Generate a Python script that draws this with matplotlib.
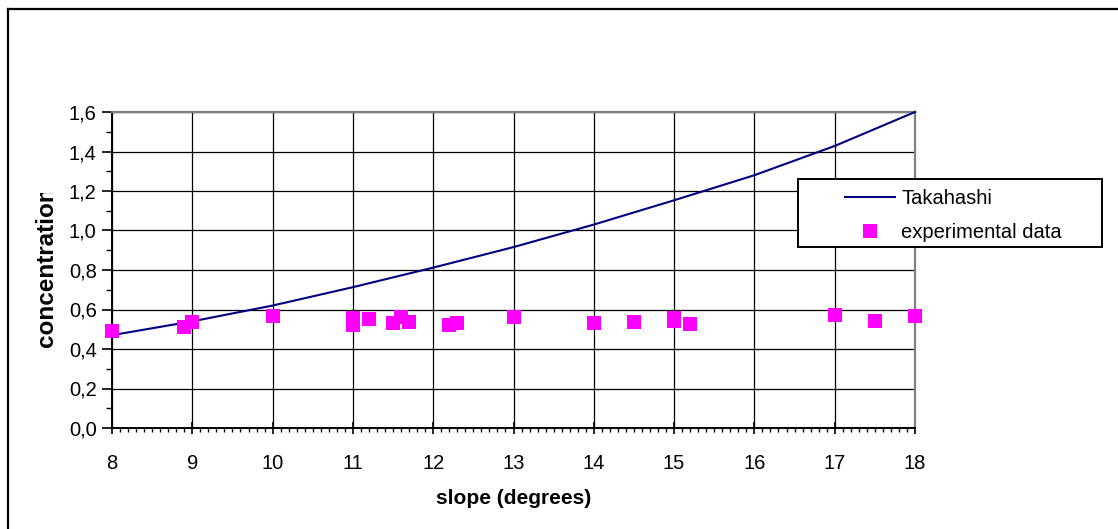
import matplotlib
matplotlib.use("Agg")
import matplotlib.pyplot as plt
from matplotlib.ticker import MultipleLocator, FuncFormatter
from matplotlib.patches import Rectangle
from matplotlib.lines import Line2D
from matplotlib.transforms import Bbox

# ---- data ----
tak_slope = [8, 9, 10, 11, 12, 13, 14, 15, 16, 17, 18]
tak_conc = [0.47, 0.54, 0.62, 0.713, 0.812, 0.916, 1.03, 1.153, 1.28, 1.428, 1.60]

exp_slope = [8.0, 8.9, 9.0, 10.0, 11.0, 11.0, 11.2, 11.5, 11.6, 11.7, 12.2, 12.3,
             13.0, 14.0, 14.5, 15.0, 15.0, 15.2, 17.0, 17.5, 18.0]
exp_conc = [0.489, 0.51, 0.535, 0.565, 0.555, 0.52, 0.55, 0.533, 0.56, 0.535, 0.52, 0.53,
            0.562, 0.53, 0.538, 0.558, 0.54, 0.525, 0.57, 0.543, 0.566]

x_label = "slope (degrees)"
y_label = "concentration"
legend_labels = ["Takahashi", "experimental data"]

plt.rcParams['font.family'] = ['Liberation Sans', 'DejaVu Sans']

W, H = 1118, 529
fig = plt.figure(figsize=(W / 100, H / 100), dpi=100)

# figure border (left and top visible)
fig.add_artist(Line2D([8 / W, 8 / W], [0, 1 - 9 / H], transform=fig.transFigure, color='black', lw=1.6))
fig.add_artist(Line2D([8 / W, 1], [1 - 9 / H, 1 - 9 / H], transform=fig.transFigure, color='black', lw=1.6))

L, R, T, B = 112, 915, 112, 428
ax = fig.add_axes([L / W, 1 - B / H, (R - L) / W, (B - T) / H])

ax.plot(tak_slope, tak_conc, color='#000080', lw=1.5, clip_on=False, zorder=3)
ax.plot(exp_slope, exp_conc, linestyle='none', marker='s', markersize=10,
        color='#FF00FF', markeredgewidth=0, clip_on=False, zorder=4)

ax.set_xlim(8, 18)
ax.set_ylim(0, 1.6)
ax.xaxis.set_major_locator(MultipleLocator(1))
ax.xaxis.set_minor_locator(MultipleLocator(0.1))
ax.yaxis.set_major_locator(MultipleLocator(0.2))
ax.yaxis.set_minor_locator(MultipleLocator(0.1))
ax.yaxis.set_major_formatter(FuncFormatter(lambda v, p: f"{v:.1f}".replace('.', ',')))
ax.xaxis.set_major_formatter(FuncFormatter(lambda v, p: f"{int(round(v))}"))

ax.grid(True, which='major', color='black', lw=0.9, zorder=1)
ax.set_axisbelow(True)

for s in ['top', 'right']:
    ax.spines[s].set_color('#808080')
    ax.spines[s].set_linewidth(1.6)
for s in ['left', 'bottom']:
    ax.spines[s].set_color('black')
    ax.spines[s].set_linewidth(1.4)

ax.tick_params(axis='y', which='major', direction='out', length=7, width=1.2, labelsize=14.5, pad=4)
ax.tick_params(axis='y', which='minor', direction='out', length=4.5, width=1.0)
ax.tick_params(axis='x', which='major', direction='inout', length=8, width=1.2, labelsize=14.5, pad=14.5)
ax.tick_params(axis='x', which='minor', direction='out', length=3, width=1.0)

ax.set_xlabel(x_label, fontsize=15, fontweight='bold', labelpad=12)

# y label clipped at top like the reference
yl = fig.text(46.5 / W, 1 - 347 / H, y_label, rotation=90, fontsize=17.5, fontweight='bold',
              ha='center', va='bottom')
clip = Bbox.from_extents(0, 0, W, H - 193)
yl.set_clip_box(clip)
yl.set_clip_on(True)

# legend box
fig.add_artist(Rectangle((798 / W, 1 - 247 / H), 304 / W, 68 / H, transform=fig.transFigure,
                         facecolor='white', edgecolor='black', lw=1.4, zorder=5))
handles = [Line2D([], [], color='#000080', lw=1.5),
           Line2D([], [], linestyle='none', marker='s', markersize=10, color='#FF00FF', markeredgewidth=0)]
leg = fig.legend(handles, legend_labels, loc='upper left',
                 bbox_to_anchor=(845 / W, 1 - 189 / H), frameon=False, fontsize=14.5,
                 borderpad=0, borderaxespad=0, handlelength=2.5, handletextpad=0.3,
                 labelspacing=0.75)
leg.set_zorder(6)

fig.savefig("out.png", dpi=100)
